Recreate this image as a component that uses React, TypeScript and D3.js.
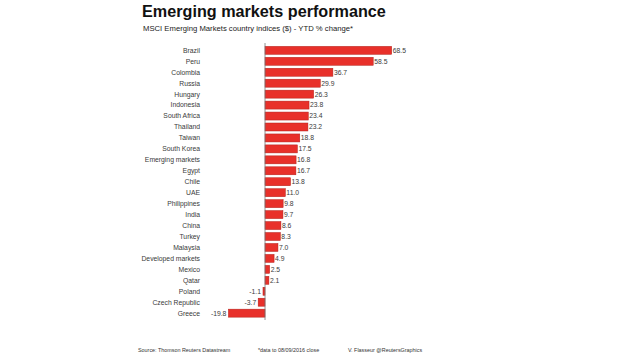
import React, { useRef, useEffect } from "react";
import * as d3 from "d3";

const countries = [
  "Brazil", "Peru", "Colombia", "Russia", "Hungary", "Indonesia", "South Africa",
  "Thailand", "Taiwan", "South Korea", "Emerging markets", "Egypt", "Chile", "UAE",
  "Philippines", "India", "China", "Turkey", "Malaysia", "Developed markets",
  "Mexico", "Qatar", "Poland", "Czech Republic", "Greece",
];
const changes = [
  68.5, 58.5, 36.7, 29.9, 26.3, 23.8, 23.4, 23.2, 18.8, 17.5, 16.8, 16.7, 13.8, 11.0,
  9.8, 9.7, 8.6, 8.3, 7.0, 4.9, 2.5, 2.1, -1.1, -3.7, -19.8,
];

const W = 620;
const H = 354;
const font = "'Liberation Sans', Arial, sans-serif";

function App() {
  const svgRef = useRef<SVGSVGElement>(null);

  useEffect(() => {
    const svg = d3.select(svgRef.current);
    svg.selectAll("*").remove();

    const rows = countries.map((c, i) => ({ name: c, value: changes[i] }));

    const x = d3.scaleLinear().domain([-19.8, 68.5]).range([228.4, 391.7]);
    const y = d3.scaleBand()
      .domain(countries)
      .range([43.5, 320])
      .paddingInner(0.27)
      .paddingOuter(0.26);

    // titles
    svg.append("text")
      .attr("x", 142).attr("y", 17)
      .attr("font-family", font).attr("font-weight", "bold")
      .attr("font-size", 16.2).attr("fill", "#111")
      .text("Emerging markets performance");
    svg.append("text")
      .attr("x", 143).attr("y", 30.5)
      .attr("font-family", font).attr("font-size", 7.7).attr("fill", "#222")
      .text("MSCI Emerging Markets country indices ($) - YTD % change*");

    // bars
    svg.selectAll(".bar")
      .data(rows)
      .join("rect")
      .attr("class", "bar")
      .attr("x", d => x(Math.min(0, d.value)))
      .attr("y", d => y(d.name)!)
      .attr("width", d => Math.abs(x(d.value) - x(0)))
      .attr("height", y.bandwidth())
      .attr("fill", "#e8302a")
      .attr("stroke", "#b3201b")
      .attr("stroke-width", 0.5);

    // zero axis line
    svg.append("line")
      .attr("x1", x(0)).attr("x2", x(0))
      .attr("y1", 43).attr("y2", 320)
      .attr("stroke", "#777").attr("stroke-width", 0.8);

    // category labels
    svg.selectAll(".cat")
      .data(rows)
      .join("text")
      .attr("class", "cat")
      .attr("x", 200)
      .attr("y", d => y(d.name)! + y.bandwidth() / 2)
      .attr("dy", "0.35em")
      .attr("text-anchor", "end")
      .attr("font-family", font).attr("font-size", 6.8).attr("fill", "#3a3a3a")
      .text(d => d.name);

    // value labels
    svg.selectAll(".val")
      .data(rows)
      .join("text")
      .attr("class", "val")
      .attr("x", d => d.value >= 0 ? x(d.value) + 1 : x(d.value) - 2)
      .attr("y", d => y(d.name)! + y.bandwidth() / 2)
      .attr("dy", "0.35em")
      .attr("text-anchor", d => d.value >= 0 ? "start" : "end")
      .attr("font-family", font).attr("font-size", 6.8).attr("fill", "#3a3a3a")
      .text(d => d.value.toFixed(1));

    // footer
    const foot = [
      { x: 138, t: "Source: Thomson Reuters Datastream" },
      { x: 258, t: "*data to 08/09/2016 close" },
      { x: 348, t: "V. Flasseur @ReutersGraphics" },
    ];
    svg.selectAll(".foot")
      .data(foot)
      .join("text")
      .attr("class", "foot")
      .attr("x", d => d.x).attr("y", 351.5)
      .attr("font-family", font).attr("font-size", 5.4).attr("fill", "#333")
      .text(d => d.t);
  }, []);

  return (
    <svg
      ref={svgRef}
      width={W}
      height={H}
      style={{ position: "absolute", left: 0, top: 0, background: "#fff" }}
    />
  );
}

export default App;
